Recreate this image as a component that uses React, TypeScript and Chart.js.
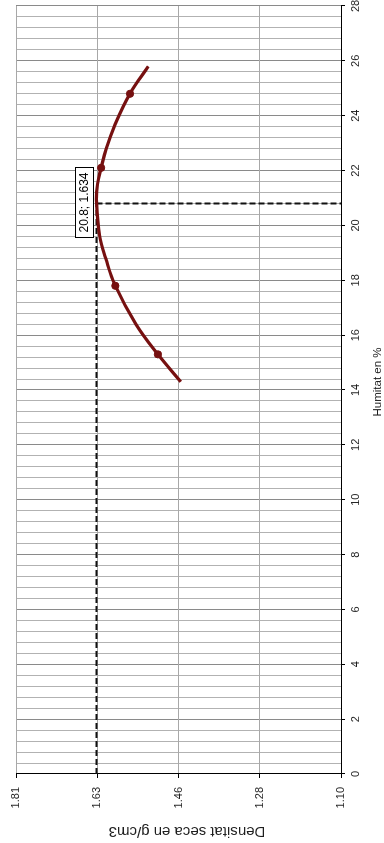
import React, { useEffect, useRef } from 'react';
import { Chart, registerables } from 'chart.js';

Chart.register(...registerables);

// ---- Data ----
const HUMIDITY_RANGE = [0, 28];
const HUMIDITY_MINOR_STEP = 0.4;
const DENSITY_RANGE = [1.1, 1.81];
const DENSITY_TICK_LABELS = ['1.10', '1.28', '1.46', '1.63', '1.81'];

const CURVE_HUMIDITY = [14.3, 15.3, 16.4, 17.8, 18.8, 19.6, 20.8, 21.5, 22.1, 22.8, 23.7, 24.8, 25.8];
const CURVE_DENSITY = [1.45, 1.5, 1.548, 1.593, 1.614, 1.627, 1.634, 1.632, 1.624, 1.613, 1.593, 1.561, 1.521];

const SAMPLE_HUMIDITY = [15.3, 17.8, 22.1, 24.8];
const SAMPLE_DENSITY = [1.5, 1.593, 1.624, 1.561];

const PEAK_HUMIDITY = 20.8;
const PEAK_DENSITY = 1.634;
const PEAK_LABEL = `${PEAK_HUMIDITY}; ${PEAK_DENSITY}`;

const X_TITLE = 'Humitat en %';
const Y_TITLE = 'Densitat seca en g/cm3';

// ---- Styles ----
const FONT = '"Liberation Sans", Arial, sans-serif';
const RED = '#761010';
const MAJOR_GRID = '#8a8a8a';
const MINOR_GRID = '#b2b2b2';
const TEXT = '#1e1e1e';

const isMajor = (v: number) => Math.abs(v / 2 - Math.round(v / 2)) < 1e-6;

const peakLabelPlugin = {
  id: 'peakLabel',
  afterDatasetsDraw(chart: any) {
    const { ctx, scales } = chart;
    const px = scales.x.getPixelForValue(PEAK_HUMIDITY);
    const py = scales.y.getPixelForValue(PEAK_DENSITY);
    ctx.save();
    ctx.font = `12px ${FONT}`;
    const w = Math.round(ctx.measureText(PEAK_LABEL).width + 10);
    const h = 18;
    const left = Math.round(px - w / 2) + 0.5;
    const top = Math.round(py - 4 - h) + 0.5;
    ctx.fillStyle = '#ffffff';
    ctx.fillRect(left, top, w, h);
    ctx.strokeStyle = '#000000';
    ctx.lineWidth = 1;
    ctx.strokeRect(left, top, w, h);
    ctx.fillStyle = '#000000';
    ctx.textAlign = 'center';
    ctx.textBaseline = 'middle';
    ctx.fillText(PEAK_LABEL, left + w / 2, top + h / 2 + 0.5);
    ctx.restore();
  },
};

// Axis titles placed where the reference has them (centred on the chart, not only the plot)
const axisTitlesPlugin = {
  id: 'axisTitles',
  afterDraw(chart: any) {
    const { ctx } = chart;
    ctx.save();
    ctx.fillStyle = TEXT;
    ctx.textAlign = 'center';
    ctx.textBaseline = 'middle';
    ctx.font = `11.5px ${FONT}`;
    ctx.fillText(X_TITLE, 461, 377.5);
    ctx.font = `15px ${FONT}`;
    ctx.translate(12, 187);
    ctx.rotate(-Math.PI / 2);
    ctx.fillText(Y_TITLE, 0, 0);
    ctx.restore();
  },
};

export default function App() {
  const ref = useRef<HTMLCanvasElement>(null);

  useEffect(() => {
    document.documentElement.style.overflow = 'hidden';
    document.body.style.margin = '0';
    document.body.style.overflow = 'hidden';

    const curve = CURVE_HUMIDITY.map((x, i) => ({ x, y: CURVE_DENSITY[i] }));
    const samples = SAMPLE_HUMIDITY.map((x, i) => ({ x, y: SAMPLE_DENSITY[i] }));

    const chart = new Chart(ref.current as HTMLCanvasElement, {
      type: 'line',
      data: {
        datasets: [
          {
            label: 'Assaigs',
            data: samples,
            showLine: false,
            pointRadius: 3.6,
            pointBackgroundColor: RED,
            pointBorderColor: RED,
            pointBorderWidth: 1,
          },
          {
            label: 'Corba',
            data: curve,
            borderColor: RED,
            borderWidth: 3.2,
            pointRadius: 0,
            tension: 0.4,
            fill: false,
          },
          {
            label: 'Densitat màxima',
            data: [
              { x: HUMIDITY_RANGE[0], y: PEAK_DENSITY },
              { x: PEAK_HUMIDITY, y: PEAK_DENSITY },
            ],
            borderColor: '#111111',
            borderWidth: 2,
            borderDash: [6, 3],
            pointRadius: 0,
            fill: false,
          },
          {
            label: 'Humitat òptima',
            data: [
              { x: PEAK_HUMIDITY, y: PEAK_DENSITY },
              { x: PEAK_HUMIDITY, y: DENSITY_RANGE[0] },
            ],
            borderColor: '#111111',
            borderWidth: 2,
            borderDash: [6, 3],
            pointRadius: 0,
            fill: false,
          },
        ],
      },
      options: {
        responsive: false,
        animation: false,
        layout: { padding: { top: 16, right: 6, left: 0, bottom: 0 } },
        plugins: {
          legend: { display: false },
          tooltip: { enabled: false },
        },
        scales: {
          x: {
            type: 'linear',
            position: 'bottom',
            min: HUMIDITY_RANGE[0],
            max: HUMIDITY_RANGE[1],
            ticks: {
              stepSize: HUMIDITY_MINOR_STEP,
              autoSkip: false,
              maxRotation: 0,
              minRotation: 0,
              padding: 4,
              color: TEXT,
              font: { family: FONT, size: 11 },
              callback: (v: any) => (isMajor(Number(v)) ? String(Math.round(Number(v))) : ''),
            },
            grid: {
              color: (c: any) => (c.tick && isMajor(c.tick.value) ? MAJOR_GRID : MINOR_GRID),
              lineWidth: 1,
              tickLength: 4,
              tickColor: (c: any) => (c.tick && isMajor(c.tick.value) ? '#000000' : 'rgba(0,0,0,0)'),
            },
            border: { color: '#000000', width: 1 },
            title: { display: false },
            afterFit: (s: any) => {
              s.height = 43;
              s.paddingLeft = 0;
              s.paddingRight = 0;
            },
          },
          y: {
            type: 'linear',
            min: DENSITY_RANGE[0],
            max: DENSITY_RANGE[1],
            ticks: {
              stepSize: (DENSITY_RANGE[1] - DENSITY_RANGE[0]) / 4,
              padding: 9,
              color: TEXT,
              font: { family: FONT, size: 11 },
              callback: (_v: any, i: number) => DENSITY_TICK_LABELS[i],
            },
            grid: {
              color: '#a8a8a8',
              lineWidth: 1,
              tickLength: 4,
              tickColor: '#000000',
            },
            border: { color: '#000000', width: 1 },
            title: { display: false },
            afterFit: (s: any) => {
              s.width = 69;
              s.paddingTop = 0;
              s.paddingBottom = 0;
            },
          },
        },
      } as any,
      plugins: [peakLabelPlugin, axisTitlesPlugin],
    });

    return () => chart.destroy();
  }, []);

  return (
    <div
      style={{
        position: 'absolute',
        left: 0,
        top: 0,
        width: 843,
        height: 384,
        transformOrigin: '0 0',
        transform: 'translate(0px, 843px) rotate(-90deg)',
        background: '#ffffff',
      }}
    >
      <canvas ref={ref} width={843} height={384} style={{ display: 'block', width: 843, height: 384 }} />
    </div>
  );
}
